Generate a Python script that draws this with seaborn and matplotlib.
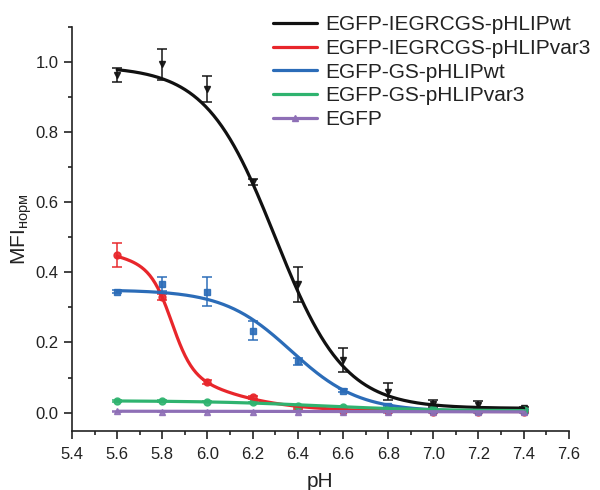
import numpy as np
import pandas as pd
import matplotlib
matplotlib.use('Agg')
import matplotlib.pyplot as plt
from matplotlib.ticker import MultipleLocator
import seaborn as sns

# measured points
ph = [5.6, 5.8, 6.0, 6.2, 6.4, 6.6, 6.8, 7.0, 7.2, 7.4]

wt_ieg = [0.963, 0.993, 0.923, 0.657, 0.366, 0.150, 0.060, 0.025, 0.022, 0.012]
wt_ieg_err = [0.02, 0.045, 0.038, 0.008, 0.05, 0.034, 0.025, 0.01, 0.01, 0.004]
var3_ieg = [0.449, 0.329, 0.087, 0.044, 0.012, 0.005, 0.004, 0.003, 0.003, 0.003]
var3_ieg_err = [0.034, 0.008, 0.005, 0.004, 0.003, 0.002, 0.002, 0.002, 0.002, 0.002]
wt_gs = [0.345, 0.368, 0.345, 0.234, 0.147, 0.063, 0.02, 0.008, 0.005, 0.005]
wt_gs_err = [0.004, 0.02, 0.042, 0.026, 0.01, 0.003, 0.002, 0.002, 0.002, 0.002]
var3_gs = [0.033, 0.033, 0.031, 0.029, 0.020, 0.015, 0.011, 0.009, 0.008, 0.007]
var3_gs_err = [0.003, 0.002, 0.002, 0.002, 0.002, 0.002, 0.002, 0.002, 0.002, 0.002]
egfp = [0.004, 0.003, 0.003, 0.003, 0.003, 0.003, 0.002, 0.002, 0.002, 0.002]
egfp_err = [0.002, 0.002, 0.002, 0.002, 0.002, 0.002, 0.002, 0.002, 0.002, 0.002]

labels = ['EGFP-IEGRCGS-pHLIPwt', 'EGFP-IEGRCGS-pHLIPvar3',
          'EGFP-GS-pHLIPwt', 'EGFP-GS-pHLIPvar3', 'EGFP']
colors = ['#111111', '#e8262b', '#2b6cb8', '#2fb36f', '#8e6fb6']
markers = ['v', 'o', 's', 'o', '^']

# Boltzmann fit parameters (A1, A2, x0, dx); var3 fit has a second term
fits = [
    [(0.988, 0.012, 6.30, 0.153)],
    [(0.283, 0.0, 5.842, 0.0455), (0.20, 0.003, 5.90, 0.20)],
    [(0.350, 0.003, 6.37, 0.150)],
    [(0.034, 0.005, 6.50, 0.25)],
    [(0.004, 0.002, 6.60, 0.30)],
]


def boltzmann(x, a1, a2, x0, dx):
    return a2 + (a1 - a2) / (1 + np.exp((x - x0) / dx))


series = [wt_ieg, var3_ieg, wt_gs, var3_gs, egfp]
errors = [wt_ieg_err, var3_ieg_err, wt_gs_err, var3_gs_err, egfp_err]

sns.set_style('ticks')
plt.rcParams['font.family'] = ['Liberation Sans', 'DejaVu Sans']

fig = plt.figure(figsize=(6, 4.9), dpi=100)
ax = fig.add_axes([0.12, 0.12, 0.828, 0.825])

xs = np.linspace(5.6, 7.4, 300)
rows = []
for lab, terms in zip(labels, fits):
    ys = np.zeros_like(xs)
    for t in terms:
        ys = ys + boltzmann(xs, *t)
    for x, y in zip(xs, ys):
        rows.append({'pH': x, 'MFI': y, 'sample': lab})
curves = pd.DataFrame(rows)

# points with error bars (drawn first, lines on top)
for y, e, c, m in zip(series, errors, colors, markers):
    ax.errorbar(ph, y, yerr=e, fmt=m, color=c, ms=5, capsize=3.5,
                elinewidth=1.2, capthick=1.2, ecolor=c, alpha=0.9, zorder=2)

sns.lineplot(data=curves, x='pH', y='MFI', hue='sample', hue_order=labels,
             palette=colors, linewidth=2.3, ax=ax, legend=False, zorder=3)

# legend handles
handles = []
for lab, c, m in zip(labels, colors, markers):
    if lab == 'EGFP':
        h, = ax.plot([], [], color=c, lw=2.3, marker=m, ms=5)
    else:
        h, = ax.plot([], [], color=c, lw=2.3)
    handles.append(h)
leg = ax.legend(handles=handles, labels=labels, loc='upper left',
                bbox_to_anchor=(0.388, 1.05), frameon=False, fontsize=15,
                handlelength=2.1, handletextpad=0.4, labelspacing=0.23,
                borderaxespad=0)
for t in leg.get_texts():
    t.set_color('#222222')

ax.set_xlim(5.4, 7.6)
ax.set_ylim(-0.053, 1.1)
ax.xaxis.set_minor_locator(MultipleLocator(0.1))
ax.yaxis.set_minor_locator(MultipleLocator(0.1))
ax.set_xticks(np.arange(5.4, 7.61, 0.2))
ax.set_xticklabels([f'{v:.1f}' for v in np.arange(5.4, 7.61, 0.2)])
ax.set_yticks(np.arange(0, 1.01, 0.2))
ax.set_yticklabels([f'{v:.1f}' for v in np.arange(0, 1.01, 0.2)])
ax.tick_params(axis='both', which='major', length=5.5, width=1.2,
               labelsize=12, color='#222222', labelcolor='#222222', pad=4)
ax.tick_params(axis='x', which='major', pad=6)
ax.tick_params(axis='both', which='minor', length=3, width=1.2,
               color='#222222')
ax.set_xlabel('pH', fontsize=15, color='#222222', labelpad=7)
ax.set_ylabel(r'MFI$_{\mathregular{норм}}$', fontsize=15, color='#222222',
              labelpad=1)

for s in ['top', 'right']:
    ax.spines[s].set_visible(False)
for s in ['left', 'bottom']:
    ax.spines[s].set_linewidth(1.2)
    ax.spines[s].set_color('#222222')

fig.savefig('out.png', dpi=100)
